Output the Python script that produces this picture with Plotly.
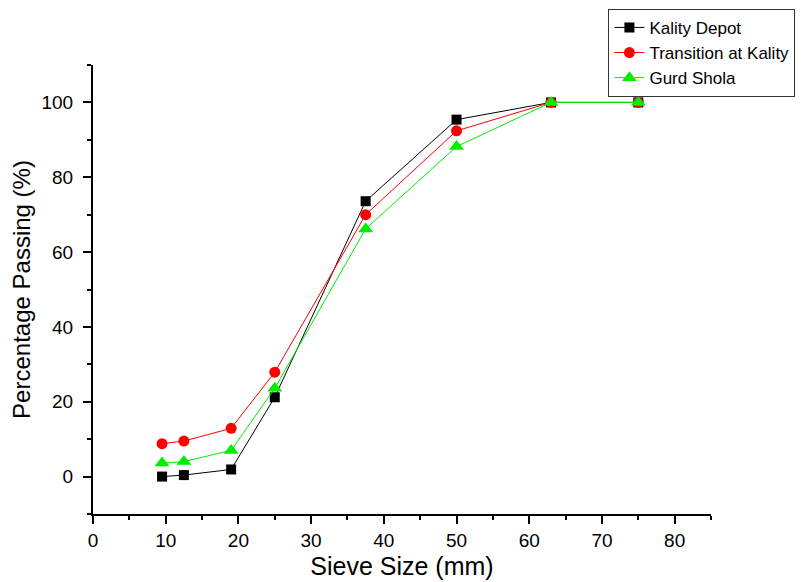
import plotly.graph_objects as go

sieve = [9.5, 12.5, 19, 25, 37.5, 50, 63, 75]
kality_depot = [0.0, 0.4, 1.9, 21.2, 73.6, 95.4, 100, 100]
transition = [8.8, 9.5, 12.9, 27.9, 70.0, 92.4, 100, 100]
gurd_shola = [3.6, 4.0, 7.0, 23.6, 66.2, 88.2, 100, 100]

fig = go.Figure()
fig.add_trace(go.Scatter(x=sieve, y=kality_depot, mode="lines+markers", name="Kality Depot",
                         line=dict(color="black", width=1),
                         marker=dict(symbol="square", size=10, color="black")))
fig.add_trace(go.Scatter(x=sieve, y=transition, mode="lines+markers", name="Transition at Kality",
                         line=dict(color="red", width=1),
                         marker=dict(symbol="circle", size=11, color="red")))
fig.add_trace(go.Scatter(x=sieve, y=gurd_shola, mode="lines+markers", name="Gurd Shola",
                         line=dict(color="#00ee00", width=1),
                         marker=dict(symbol="triangle-up", size=13, color="#00ee00")))

font_family = "Liberation Sans, Arial"
axis_common = dict(showgrid=False, zeroline=False, showline=True, linecolor="black", linewidth=2,
                   ticks="outside", ticklen=8, tickwidth=2, tickcolor="black", automargin=False)

fig.update_xaxes(range=[0, 85], tick0=0, dtick=10,
                 minor=dict(ticks="outside", ticklen=4, tickwidth=2, tickcolor="black", dtick=5, tick0=0),
                 tickfont=dict(family=font_family, size=19, color="black"),
                 title=dict(text="Sieve Size (mm)", standoff=8,
                            font=dict(family=font_family, size=25, color="black")),
                 **axis_common)
fig.update_yaxes(range=[-10, 110], tickvals=[0, 20, 40, 60, 80, 100],
                 minor=dict(ticks="outside", ticklen=4, tickwidth=2, tickcolor="black",
                            tickvals=[-10, 10, 30, 50, 70, 90, 110]),
                 tickfont=dict(family=font_family, size=19, color="black"),
                 ticklabelstandoff=6,
                 title=dict(text="Percentage Passing (%)", standoff=8,
                            font=dict(family=font_family, size=24, color="black")),
                 **axis_common)

fig.update_layout(
    width=801, height=574,
    margin=dict(l=85, r=98, t=57, b=68, autoexpand=False),
    paper_bgcolor="white", plot_bgcolor="white",
    showlegend=True,
    legend=dict(x=0.834, y=1.125, xanchor="left", yanchor="top",
                bgcolor="white", bordercolor="#333", borderwidth=1,
                font=dict(family=font_family, size=17, color="black"),
                tracegroupgap=0),
)

fig.write_html("out.html")
